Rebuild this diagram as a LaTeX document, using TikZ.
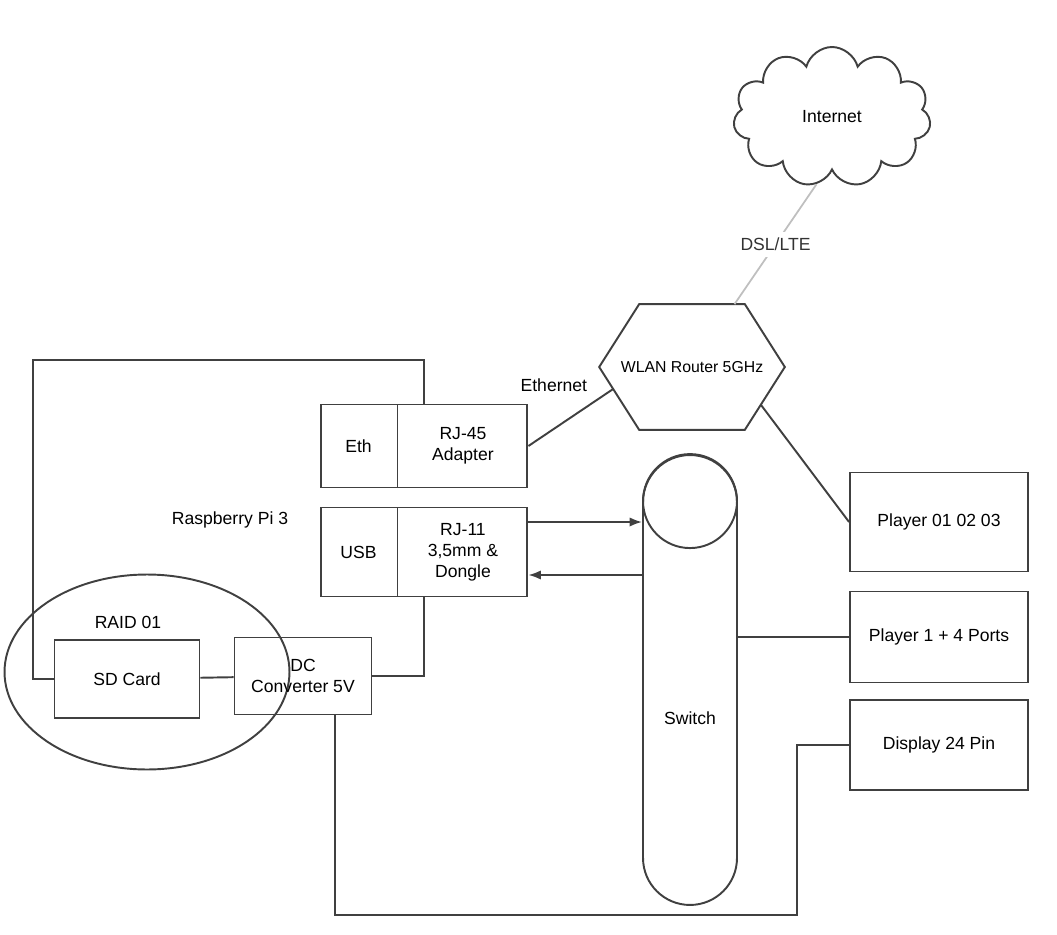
\documentclass[tikz,border=0pt]{standalone}
\usepackage{fontspec}
\setmainfont{Liberation Sans}
\usetikzlibrary{shapes.multipart,shapes.symbols,shapes.geometric,arrows.meta,positioning,calc}
\tikzset{
    wire/.style={draw=black!75, line width=1.1pt},
    faint/.style={draw=black!25, line width=1pt},
    box/.style={rectangle, wire, minimum width=3.56cm, align=center},
    pibox/.style={rectangle split, rectangle split horizontal, rectangle split parts=2, wire, inner xsep=0pt, align=center},
    link/.style={wire, -{Latex[length=2.5mm]}}
}

\begin{document}
\begin{tikzpicture}[x=0.02cm, y=-0.02cm, font=\fontsize{10}{12}\selectfont]
    \useasboundingbox (0,0) rectangle (1057,935);
    % Nodes
    \node[cloud, cloud puffs=11, wire, minimum width=3.95cm, minimum height=2.8cm] (net) at (832,117) {Internet};
    \node[minimum width=3.7cm, minimum height=2.5cm, font=\fontsize{9}{11}\selectfont] (router) at (692,367) {WLAN Router 5GHz};
    \node[pibox, minimum height=1.66cm] (eth) at (424,446) {\makebox[1.52cm]{Eth}\nodepart{two}\parbox{2.58cm}{\centering RJ-45\\Adapter}};
    \node[pibox, minimum height=1.78cm] (usb) at (424,552) {\makebox[1.52cm]{USB}\nodepart{two}\parbox{2.58cm}{\centering RJ-11\\3,5mm \&\\Dongle}};
    \node (pilabel) at (230,520) {Raspberry Pi 3};
    \node[ellipse, wire, minimum width=5.7cm, minimum height=3.9cm] (nas) at (147,672) {};
    \node (naslabel) at (128,622) {RAID 01};
    \node[box, minimum width=2.9cm, minimum height=1.56cm] (sd) at (127,679) {SD Card};
    \node[box, minimum width=2.74cm, minimum height=1.54cm] (conv) at (303,676) {DC\\Converter 5V};
    \node[rectangle, wire, rounded corners=0.94cm, minimum width=1.88cm, minimum height=9cm] (sw) at (690,680) {};
    \node (swlabel) at (690,718) {Switch};
    \node[box, minimum height=1.98cm] (p1) at (939,522) {Player 01 02 03};
    \node[box, minimum height=1.82cm] (p2) at (939,637) {Player 1 + 4 Ports};
    \node[box, minimum height=1.8cm] (p3) at (939,745) {Display 24 Pin};

    % router outline and switch top
    \draw[wire] (router.west) -- ([xshift=0.8cm]router.north west) -- ([xshift=-0.8cm]router.north east)
        -- (router.east) -- ([xshift=-0.8cm]router.south east) -- ([xshift=0.8cm]router.south west) -- cycle;
    \draw[wire] ([yshift=-0.94cm]sw.north) circle[radius=0.94cm];

    % edges
    \coordinate (tl) at (33,360);
    \coordinate (bl) at (797,915);
    \coordinate (u1) at ([yshift=0.6cm]usb.east);
    \coordinate (u2) at ([yshift=-0.46cm]usb.east);
    \coordinate (rl) at ($(router.west)!0.35!([xshift=0.8cm]router.south west)$);
    \coordinate (rr) at ($(router.east)!0.6!([xshift=-0.8cm]router.south east)$);
    \draw[faint] (net.257) -- ([xshift=0.85cm]router.north) node[midway, fill=white, text=black!80] {DSL/LTE};
    \draw[wire] (eth.east) -- (rl) node[pos=0.3, above=6mm] {Ethernet};
    \draw[wire] (rr) -- (p1.west);
    \draw[wire] (eth.north) |- (tl) |- (sd.west);
    \draw[wire] (usb.south) |- (conv.east);
    \draw[wire] (sd) -- (conv);
    \draw[wire] ([xshift=0.64cm]conv.south) |- (bl) |- (p3.west);
    \draw[link] (u1) -- (u1 -| sw.west);
    \draw[link] (u2 -| sw.west) -- (u2);
    \draw[wire] (sw.east |- p2.west) -- (p2.west);
\end{tikzpicture}
\end{document}
